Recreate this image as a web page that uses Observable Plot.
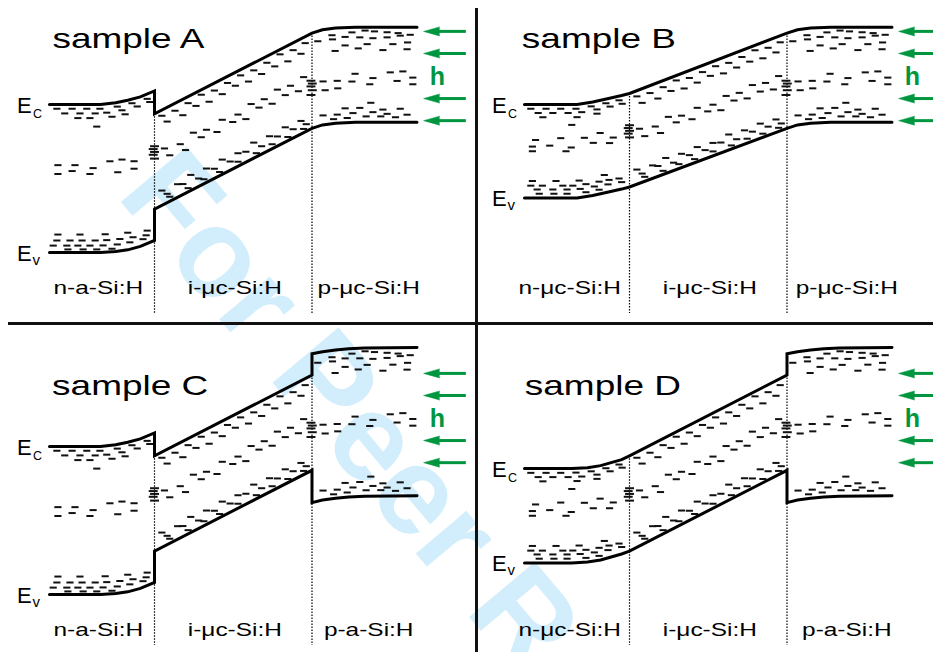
<!DOCTYPE html>
<html><head><meta charset="utf-8">
<script src="https://cdn.jsdelivr.net/npm/d3@7"></script>
<script src="https://cdn.jsdelivr.net/npm/@observablehq/plot@0.6"></script>
<style>
html,body{margin:0;padding:0;background:#fff;}
#fig{position:relative;width:933px;height:652px;overflow:hidden;font-family:"Liberation Sans",Arial,sans-serif;}
#fig > div{position:absolute;}
#fig svg{max-width:none !important;}
.divider{background:#111;}
</style></head><body><div id="fig"></div>
<script>
// ---------- data ----------
const titles = ["sample A", "sample B", "sample C", "sample D"];
const layerLabels = [
  ["n-a-Si:H", "i-μc-Si:H", "p-μc-Si:H"],
  ["n-μc-Si:H", "i-μc-Si:H", "p-μc-Si:H"],
  ["n-a-Si:H", "i-μc-Si:H", "p-a-Si:H"],
  ["n-μc-Si:H", "i-μc-Si:H", "p-a-Si:H"]
];
const layerCenters = [9.3, 35.3, 60.8];   // position (a.u.)
const interfaces = [20, 50];              // position (a.u.)

// band edges (position a.u., energy eV)
const ecNaA = [[0,0],[9.7,0],[12.6,0.02],[14.9,0.05],[17.3,0.09],[20,0.16]];
const evNaA = [[0,-1.74],[9.7,-1.74],[12.6,-1.73],[14.9,-1.71],[17.3,-1.67],[20,-1.6]];
const ecIA = [[20,-0.11],[50,0.84]];
const evIA = [[20,-1.23],[50,-0.28]];
const ecPmu = [[50,0.84],[52,0.88],[54.5,0.9],[58.3,0.91],[70,0.91]];
const evPmu = [[50,-0.28],[52,-0.24],[54.5,-0.22],[58.3,-0.21],[70,-0.21]];
const ecNmuB = [[0,0],[10,0],[13,0.03],[16,0.07],[18.5,0.105],[20,0.13]];
const evNmuB = [[0,-1.1],[10,-1.1],[13,-1.07],[16,-1.03],[18.5,-0.995],[20,-0.97]];
const ecIB = [[20,0.13],[50,0.84]];
const evIB = [[20,-0.97],[50,-0.28]];
const ecPa = [[50,1.09],[52,1.115],[54.5,1.135],[57,1.15],[60,1.16],[70,1.165]];
const evPa = [[50,-0.66],[52,-0.63],[54.5,-0.61],[57,-0.595],[60,-0.585],[70,-0.58]];
const ecNmuD = [[0,-0.26],[9,-0.26],[12,-0.25],[14.5,-0.225],[16.5,-0.19],[18.5,-0.155],[20,-0.11]];
const evNmuD = [[0,-1.37],[9,-1.37],[12,-1.36],[14.5,-1.335],[16.5,-1.3],[18.5,-1.265],[20,-1.23]];

// tail / defect states: cb = [x, depth below Ec], vb = [x, height above Ev], mid = [x, fraction of gap below Ec]
const naCb = [[1.5,.05],[4.4,.05],[7.2,.05],[9.7,.05],[13,.05],[15.8,.05],[18.7,.06],[3,.105],[5.9,.105],[8.8,.105],[11,.105],[13.9,.105],[16.8,.105],[19.2,.11],[5.5,.16],[7.8,.16],[12,.16],[14.5,.16],[9.1,.26]];
const naVb = [[1.7,.21],[5.9,.21],[10.7,.21],[15,.2],[18.7,.15],[1.5,.14],[4,.14],[6.3,.14],[8.8,.14],[11,.14],[13.5,.14],[16,.13],[18.5,.1],[0.8,.08],[3.4,.08],[5.5,.08],[7.8,.08],[10.3,.08],[13,.08],[15.4,.08],[17.9,.07],[3.6,.035],[6.5,.035],[9.1,.035],[12,.035]];
const naMid = [[1.7,.41],[4.95,.41],[8.4,.43],[11.6,.39],[13.9,.39],[16.2,.42],[1.7,.47],[4.4,.45],[7.8,.47],[13.1,.47],[16.2,.47]];
const nmCb = [[1.3,.05],[4.2,.05],[7,.05],[9.9,.05],[12.8,.05],[15.6,.05],[18.1,.05],[2.7,.1],[5.5,.1],[8.4,.1],[11,.1],[13.9,.1],[16.4,.1],[18.7,.1],[3.6,.15],[10.1,.15],[13.9,.15],[9.1,.24]];
const nmVb = [[1.6,.2],[6.1,.2],[10.5,.2],[15.3,.21],[1.3,.145],[3.5,.145],[7.4,.145],[9.3,.145],[11.8,.145],[14.3,.145],[16.2,.14],[18.1,.13],[2.5,.1],[5.5,.1],[8.2,.1],[10.7,.1],[13.4,.1],[16,.09],[18.6,.08],[2.9,.05],[5.7,.05],[8.2,.05],[11.8,.05],[14.3,.05]];
const nmMid = [[2.2,.38],[7,.36],[11.5,.37],[14.5,.35],[1.6,.45],[4.9,.44],[9,.46],[13.2,.44],[17,.43],[1.6,.5],[8,.5],[16.3,.48]];
const iCb = [[21.5,.07],[24,.09],[26.5,.08],[29,.06],[31.5,.09],[34,.08],[36.5,.07],[39,.09],[41.5,.08],[44,.06],[46.5,.09],[48.8,.08],[22.5,.17],[25.5,.19],[28,.16],[30.5,.19],[33,.18],[35.5,.16],[38,.19],[40.5,.18],[43,.17],[45.5,.19],[48,.18]];
const iMid = [[22,.42],[25,.46],[27.5,.41],[30,.45],[33,.43],[36,.46],[38.5,.42],[41,.44],[43.5,.41],[46,.44],[48.5,.42],[23,.52],[26,.55],[29,.5],[32,.53],[35,.51],[37.5,.55],[40,.5],[42.5,.53],[45,.51],[47.5,.54]];
const iVb = [[21.5,.17],[24.5,.15],[27,.18],[30,.16],[33,.17],[36,.15],[39,.18],[42,.16],[45,.17],[48,.15],[22.5,.1],[25.5,.12],[28.5,.09],[31.5,.11],[34.5,.1],[37.5,.12],[40.5,.09],[43.5,.11],[46.5,.1],[49,.08],[23,.05],[26.5,.04],[29.5,.05],[32.5,.04],[36,.05],[39.5,.04],[42.5,.05],[45.5,.04],[48.5,.04]];
const pCb = [[53.9,.08],[57.7,.06],[60.2,.04],[62,.05],[64.4,.06],[66.5,.07],[68.8,.09],[51.2,.12],[54,.13],[56.4,.11],[59.2,.12],[61.7,.13],[64.4,.12],[66.9,.1],[56.4,.21],[60.6,.2],[65.5,.2],[68.3,.18],[54.5,.27],[58.9,.25],[63.6,.27],[68.2,.26]];
const pVb = [[61.3,.23],[56.4,.17],[59.2,.17],[63.6,.15],[66.9,.16],[52.2,.11],[54.9,.1],[57.9,.11],[61.7,.12],[64.4,.1],[68.2,.09],[54.2,.05],[56.8,.055],[60.4,.07],[63.2,.07],[66,.06]];
const pmMid = [[58.3,.49],[61.7,.535],[65,.475],[67.4,.465],[69.3,.53],[52.2,.545],[54.9,.556],[57.7,.57],[61.1,.6],[66.3,.565],[69.3,.6],[52.6,.64],[55,.635]];
const paMid = [[58.3,.46],[61.7,.486],[65,.449],[67.4,.442],[69.3,.482],[52.2,.493],[54.9,.5],[57.7,.51],[61.1,.527],[66.3,.505],[69.3,.527],[52.6,.554],[55,.55]];
const niStack = [.34,.37,.4,.43,.47];   // interface states (fraction of gap), n/i
const ipStack = [.5,.53,.56,.6,.65];    // interface states, i/p

const arrowLevels = [0.86, 0.6, 0.07, -0.19];  // eV, incoming light arrows
const titleY = [0.67, 0.67, 0.6, 0.6];
const titleX = [0.57, -0.5, 0.5, 0.06];
const bottomY = [-2.46, -2.46, -2.34, -2.34];

// ---------- assembly ----------
const panelLayers = [
  [{ec:ecNaA,ev:evNaA,cb:naCb,vb:naVb,mid:naMid},{ec:ecIA,ev:evIA,cb:iCb,vb:iVb,mid:iMid},{ec:ecPmu,ev:evPmu,cb:pCb,vb:pVb,mid:pmMid}],
  [{ec:ecNmuB,ev:evNmuB,cb:nmCb,vb:nmVb,mid:nmMid},{ec:ecIB,ev:evIB,cb:iCb,vb:iVb,mid:iMid},{ec:ecPmu,ev:evPmu,cb:pCb,vb:pVb,mid:pmMid}],
  [{ec:ecNaA,ev:evNaA,cb:naCb,vb:naVb,mid:naMid},{ec:ecIA,ev:evIA,cb:iCb,vb:iVb,mid:iMid},{ec:ecPa,ev:evPa,cb:pCb,vb:pVb,mid:paMid}],
  [{ec:ecNmuD,ev:evNmuD,cb:nmCb,vb:nmVb,mid:nmMid},{ec:ecIA,ev:evIA,cb:iCb,vb:iVb,mid:iMid},{ec:ecPa,ev:evPa,cb:pCb,vb:pVb,mid:paMid}]
];

function interp(pts, x) {
  for (let k = 1; k < pts.length; k++) {
    const [x0, y0] = pts[k-1], [x1, y1] = pts[k];
    if (x <= x1 || k === pts.length - 1) {
      const t = x1 === x0 ? 1 : (x - x0) / (x1 - x0);
      return y0 + t * (y1 - y0);
    }
  }
}

const GREEN = "#00963f";
const INK = "#111";
const FONT = "Liberation Sans, Arial, Helvetica, sans-serif";
const DASH = 0.68;

const fig = document.getElementById("fig");

// watermark (behind everything)
const wm = Plot.plot({
  width: 933, height: 652, margin: 0,
  style: {background: "transparent", fontFamily: FONT, maxWidth: "none"},
  marks: [
    Plot.text(["For Peer Review"], {frameAnchor: "top-left", dx: 115, dy: 195, rotate: 50, text: d => d,
      textAnchor: "start", lineAnchor: "bottom", fontSize: 125, fontWeight: "bold", fill: "#d2edfb"})
  ]
});
const wmDiv = document.createElement("div");
Object.assign(wmDiv.style, {left: "0px", top: "0px", width: "933px", height: "652px"});
wmDiv.appendChild(wm); fig.appendChild(wmDiv);

const stretchTexts = new Set([...titles, ...layerLabels.flat()]);

panelLayers.forEach((layers, p) => {
  const col = p % 2, row = Math.floor(p / 2);
  const H = row === 0 ? 325 : 310;
  const yMin = row === 0 ? -2.6 : -2.4235;

  const bands = [];
  for (const edge of ["ec", "ev"]) layers.forEach(L => L[edge].forEach(([x, y]) => bands.push({edge, x, y})));

  const dashes = [];
  layers.forEach(L => {
    L.cb.forEach(([x, d]) => dashes.push({x, y: interp(L.ec, x) - d, h: DASH}));
    L.vb.forEach(([x, h]) => dashes.push({x, y: interp(L.ev, x) + h, h: DASH}));
    L.mid.forEach(([x, f]) => { const c = interp(L.ec, x), v = interp(L.ev, x); dashes.push({x, y: c + f * (v - c), h: DASH}); });
  });
  const iL = layers[1];
  niStack.forEach((f, k) => { const c = interp(iL.ec, 20), v = interp(iL.ev, 20); dashes.push({x: 20 + (k % 2 ? -0.15 : 0.1), y: c + f * (v - c), h: 0.85}); });
  ipStack.forEach((f, k) => { const c = interp(iL.ec, 50), v = interp(iL.ev, 50); dashes.push({x: 50 + (k % 2 ? 0.15 : -0.1), y: c + f * (v - c), h: 0.85}); });

  const ifaceRules = interfaces.map((x, k) => ({
    x, y1: Math.min(interp(layers[k].ec, x), interp(layers[k+1].ec, x)), y2: bottomY[p]
  }));

  const edgeLabels = [
    {t: "E", x: -6.2, y: interp(layers[0].ec, 0) - 0.1, s: 22},
    {t: "C", x: -3.15, y: interp(layers[0].ec, 0) - 0.153, s: 12.5},
    {t: "E", x: -6.2, y: interp(layers[0].ev, 0) - 0.1, s: 22},
    {t: "v", x: -3.25, y: interp(layers[0].ev, 0) - 0.145, s: 15}
  ];

  const labels = layerLabels[p].map((t, k) => ({t, x: layerCenters[k] + (p % 2 && k === 0 ? -0.7 : 0) + (p % 2 && k === 2 ? 0.6 : 0), y: -2.227}));
  const arrows = arrowLevels.map(y => ({y}));

  const chart = Plot.plot({
    width: 475, height: H, margin: 0,
    x: {domain: [-9.333, 81.143], axis: null},
    y: {domain: [yMin, 1.2235], axis: null},
    style: {background: "transparent", fontFamily: FONT, overflow: "visible", maxWidth: "none"},
    marks: [
      Plot.ruleX(ifaceRules, {x: "x", y1: "y1", y2: "y2", stroke: "#000", strokeWidth: 1.2, strokeDasharray: "1.5,1.5"}),
      Plot.ruleY(dashes, {y: "y", x1: d => d.x - d.h, x2: d => d.x + d.h, stroke: INK, strokeWidth: 2}),
      Plot.line(bands, {x: "x", y: "y", z: "edge", stroke: "#000", strokeWidth: 3, strokeLinejoin: "miter", strokeMiterlimit: 4}),
      Plot.ruleY(arrows, {y: "y", x1: 73.8, x2: 79.4, stroke: GREEN, strokeWidth: 3}),
      Plot.vector(arrows, {x: 74.3, y: "y", length: 16, rotate: 270, shape: "spike", r: 4.5, anchor: "start", fill: GREEN, stroke: GREEN, strokeWidth: 0.5}),
      Plot.text(["h"], {x: 73.9, y: 0.224, text: d => d, fontSize: 25, fontWeight: "bold", fill: GREEN, textAnchor: "middle", lineAnchor: "bottom"}),
      Plot.text([titles[p]], {x: titleX[p], y: titleY[p], text: d => d, fontSize: 28, fill: "#000", textAnchor: "start", lineAnchor: "bottom"}),
      Plot.text(labels, {x: "x", y: "y", text: "t", fontSize: 18.5, fill: "#000", textAnchor: "middle", lineAnchor: "bottom"}),
      Plot.text(edgeLabels, {x: "x", y: "y", text: "t", fontSize: "s", fill: "#000", textAnchor: "start", lineAnchor: "bottom"})
    ]
  });
  const div = document.createElement("div");
  Object.assign(div.style, {left: (col * 475) + "px", top: (row === 0 ? 0 : 342) + "px", width: "475px", height: H + "px"});
  div.appendChild(chart);
  fig.appendChild(div);
  chart.querySelectorAll("text").forEach(t => {
    if (stretchTexts.has(t.textContent)) {
      const w = t.getComputedTextLength();
      t.setAttribute("textLength", (w * 1.32).toFixed(1));
      t.setAttribute("lengthAdjust", "spacingAndGlyphs");
    }
  });
});

// panel dividers
const vdiv = document.createElement("div");
vdiv.className = "divider";
Object.assign(vdiv.style, {left: "474.5px", top: "8px", width: "3px", height: "644px"});
const hdiv = document.createElement("div");
hdiv.className = "divider";
Object.assign(hdiv.style, {left: "8px", top: "322.3px", width: "925px", height: "2.4px"});
fig.appendChild(vdiv); fig.appendChild(hdiv);
</script></body></html>
